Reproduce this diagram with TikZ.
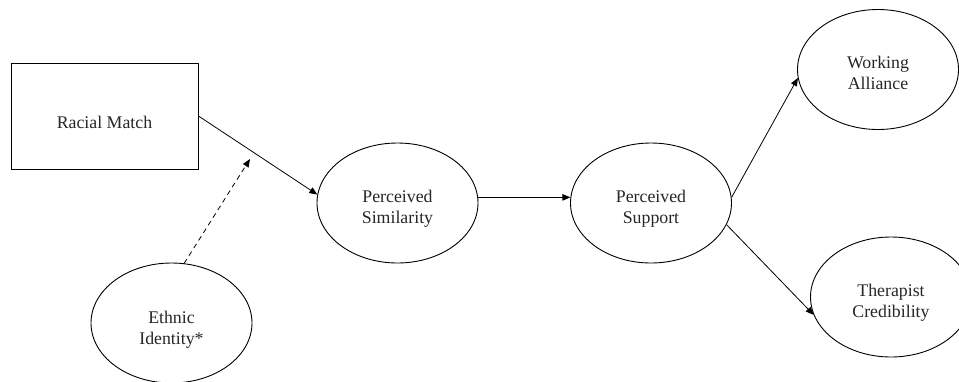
\documentclass[tikz,border=0pt]{standalone}
\usepackage{fontspec}
\setmainfont{Liberation Serif}
\usetikzlibrary{shapes.geometric,arrows.meta}
\begin{document}
\begin{tikzpicture}[x=1pt,y=-1pt,
  lbl/.style={font=\fontsize{17.8}{21}\selectfont, align=center, text=black!85, inner sep=0pt},
  oval/.style={draw, ellipse, line width=0.9pt, minimum width=161pt, minimum height=120pt, inner sep=0pt},
  box/.style={draw, rectangle, line width=0.9pt, minimum width=187pt, minimum height=106pt, inner sep=0pt},
  conn/.style={line width=0.8pt, -{Triangle[length=8pt,width=6.5pt]}}]
\useasboundingbox (0,0) rectangle (959,381);
\node[box, label={[lbl,yshift=-6pt]center:Racial Match}] (rm) at (104.5,116) {};
\node[oval, label={[lbl,yshift=-6pt]center:Perceived\\Similarity}] (ps) at (397.5,203) {};
\node[oval, label={[lbl,yshift=-6pt]center:Perceived\\Support}] (pp) at (651,203) {};
\node[oval, label={[lbl,yshift=-3pt]center:Working\\Alliance}] (wa) at (878,69.5) {};
\node[oval, label={[lbl,yshift=-6pt]center:Therapist\\Credibility}] (tc) at (891,297) {};
\node[oval, label={[lbl,yshift=-7pt]center:Ethnic\\Identity*}] (ei) at (171.5,323) {};
\coordinate (mod) at (250,159);
\draw[conn] (rm.east) -- (ps.174);
\draw[conn, dash pattern=on 5pt off 4pt] (ei.78) -- (mod);
\draw[conn] (ps.4) -- (pp.176);
\draw[conn] (pp.4) -- (wa.186);
\draw[conn] (pp.344) -- (tc.193);
\end{tikzpicture}
\end{document}
